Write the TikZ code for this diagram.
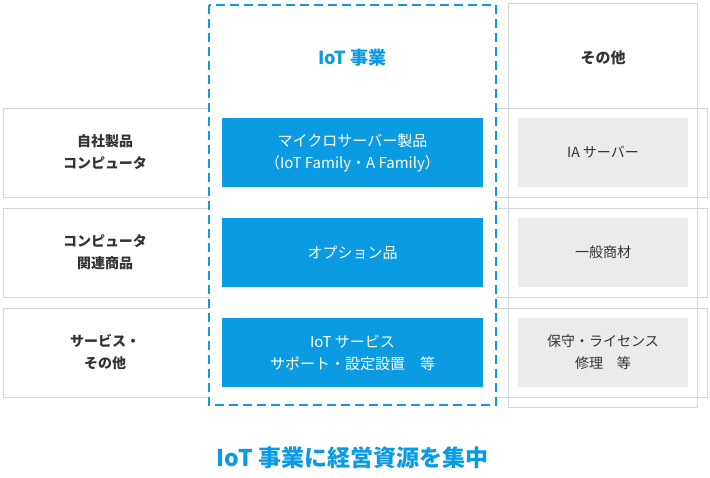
\documentclass[tikz,border=0pt]{standalone}
\usepackage{fontspec}
\setmainfont{Noto Sans CJK JP}
\newfontfamily\jpb{Noto Sans CJK JP Bold}
\definecolor{iotblue}{HTML}{0A9BE3}
\definecolor{lgray}{HTML}{D6D6D6}
\definecolor{gfill}{HTML}{EBEBEB}
\definecolor{txt}{HTML}{333333}
\begin{document}
\begin{tikzpicture}[x=1pt,y=-1pt,
  rowbox/.style={draw=lgray,line width=1pt},
  bluebox/.style={fill=iotblue,text=white,font=\fontsize{15}{22}\selectfont,align=center},
  graybox/.style={fill=gfill,text=txt,font=\fontsize{14}{22}\selectfont,align=center},
  lbl/.style={text=txt,font=\fontsize{14}{22}\selectfont\bfseries,align=center}]
\useasboundingbox (0,0) rectangle (710,477);
\draw[rowbox] (3,108) rectangle (707,197);
\draw[rowbox] (3,208) rectangle (707,297);
\draw[rowbox] (3,308) rectangle (707,397);
\draw[rowbox] (508,3) rectangle (697,407);
\fill[white] (210,5) rectangle (495,404);
\draw[iotblue,line width=2.5pt,dash pattern=on 9pt off 5pt] (209,5) rectangle (496,405);
\node[bluebox,minimum width=261pt,minimum height=69pt] (b1) at (352.5,152.5) {マイクロサーバー製品\\（IoT Family・A Family）};
\node[bluebox,minimum width=261pt,minimum height=69pt] (b2) at (352.5,252.5) {オプション品};
\node[bluebox,minimum width=261pt,minimum height=69pt] (b3) at (352.5,352.5) {IoT サービス\\サポート・設定設置\quad 等};
\node[graybox,minimum width=170pt,minimum height=69pt] (g1) at (603,152.5) {IA サーバー};
\node[graybox,minimum width=170pt,minimum height=69pt] (g2) at (603,252.5) {一般商材};
\node[graybox,minimum width=170pt,minimum height=69pt] (g3) at (603,352.5) {保守・ライセンス\\修理\quad 等};
\node[lbl] (l1) at (105,152.5) {自社製品\\コンピュータ};
\node[lbl] (l2) at (105,252.5) {コンピュータ\\関連商品};
\node[lbl] (l3) at (105,352.5) {サービス・\\その他};
\node[text=iotblue,font=\fontsize{18}{22}\selectfont\bfseries] (h1) at (352.5,58) {IoT 事業};
\node[text=txt,font=\fontsize{15}{22}\selectfont\bfseries] (h2) at (603,58) {その他};
\node[text=iotblue,font=\fontsize{23}{28}\selectfont\bfseries] (t) at (352.5,458) {IoT 事業に経営資源を集中};
\end{tikzpicture}
\end{document}
